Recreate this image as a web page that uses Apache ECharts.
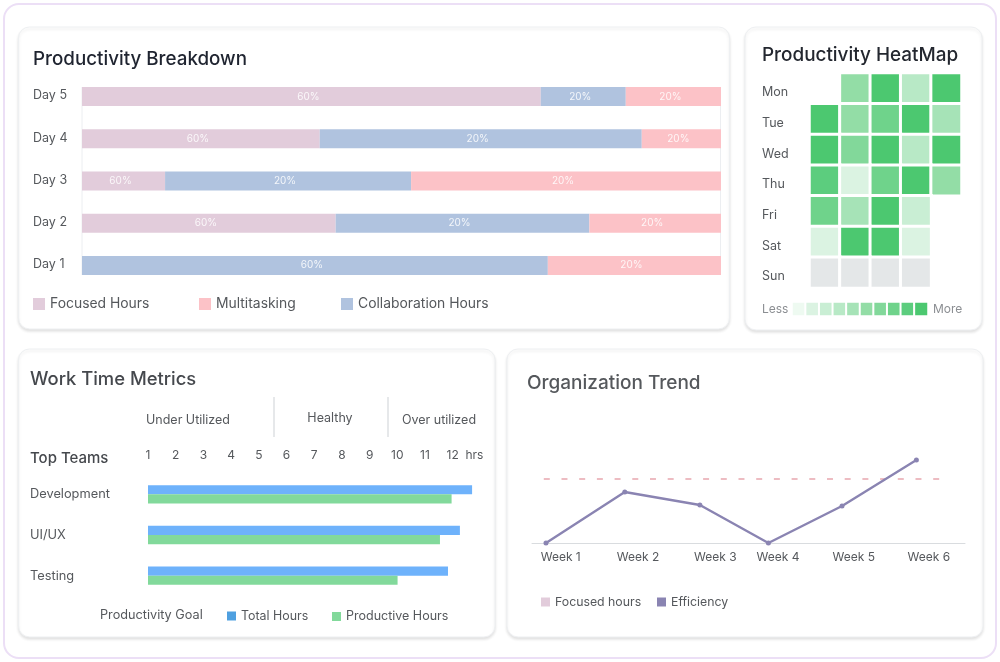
<!DOCTYPE html>
<html>
<head>
<meta charset="utf-8">
<style>
  html, body { margin: 0; padding: 0; background: #fff; }
  #main { width: 1000px; height: 662px; }
</style>
<script src="https://cdn.jsdelivr.net/npm/echarts@6/dist/echarts.min.js"></script>
</head>
<body>
<div id="main"></div>
<script>
const FONT = 'Inter, "Open Sans", sans-serif';

// Productivity Breakdown (share of the bar)
const days = ['Day 5', 'Day 4', 'Day 3', 'Day 2', 'Day 1'];
const focusedHours = [71.8, 37.2, 13, 39.7, 0];
const collaborationHours = [13.3, 50.4, 38.5, 39.7, 72.9];
const multitasking = [14.9, 12.4, 48.5, 20.6, 27.1];
const focusedLabels = ['60%', '60%', '60%', '60%', ''];
const collaborationLabels = ['20%', '20%', '20%', '20%', '60%'];
const multitaskingLabels = ['20%', '20%', '20%', '20%', '20%'];

// Productivity HeatMap (level 0-10, null = no cell)
const weekdays = ['Mon', 'Tue', 'Wed', 'Thu', 'Fri', 'Sat', 'Sun'];
const heatColumns = ['c1', 'c2', 'c3', 'c4', 'c5'];
const heatLevels = [
  [null, 6, 10, 4, 10],
  [10, 6, 8, 10, 5],
  [10, 7, 10, 4, 10],
  [9, 2, 8, 10, 6],
  [8, 5, 10, 3, null],
  [2, 10, 10, 2, null],
  [0, 0, 0, 0, null]
];
const scaleLevels = [1, 2, 3, 4, 5, 6, 7, 8, 9, 10];
const levelColors = ['#e4e7e8', '#eefaf1', '#dbf3e2', '#c9eed4', '#b8e9c6', '#a6e3b7', '#93dda6', '#82d89a', '#6fd38b', '#5ccd7e', '#4cc870'];

// Work Time Metrics
const teams = ['Development', 'UI/UX', 'Testing'];
const totalHours = [12.7, 12.26, 11.83];
const productiveHours = [11.96, 11.54, 10.01];
const hourTicks = ['1', '2', '3', '4', '5', '6', '7', '8', '9', '10', '11', '12', 'hrs'];
const zoneLabels = ['Under Utilized', 'Healthy', 'Over utilized'];

// Organization Trend
const weekLabels = ['Week 1', 'Week 2', 'Week 3', 'Week 4', 'Week 5', 'Week 6'];
const weekLabelAt = [0.2, 1.25, 2.3, 3.15, 4.18, 5.2];
const efficiencyAt = [0, 1.07, 2.09, 3.02, 4.02, 5.03];
const efficiency = [0, 51, 38, 0, 37, 83];
const goalAt = [-0.03, 5.35];
const goal = [64, 64];

function card(x, y, w, h) {
  return {
    type: 'rect',
    shape: { x: x, y: y, width: w, height: h, r: 11 },
    style: { fill: '#fff', stroke: '#eef0f2', lineWidth: 1, shadowBlur: 3, shadowOffsetY: 2, shadowColor: 'rgba(0,0,0,0.11)' }
  };
}
function vline(x, y1, y2, color, width) {
  return { type: 'line', shape: { x1: x, y1: y1, x2: x, y2: y2 }, style: { stroke: color, lineWidth: width } };
}
function text(str, x, y, size, color, align, weight) {
  return {
    type: 'text', x: x, y: y, z: 5,
    style: { text: str, fill: color, font: (weight || 400) + ' ' + size + 'px ' + FONT, textAlign: align || 'left', textVerticalAlign: 'middle' }
  };
}
function title(str, x, y, size, color) {
  return { text: str, left: x, top: y, padding: 0, textStyle: { fontFamily: FONT, fontSize: size, fontWeight: 500, color: color } };
}
function legend(name, x, y, size, color, box, textColor) {
  return {
    left: x, top: y, padding: 0, selectedMode: false, icon: 'rect',
    itemWidth: box, itemHeight: box, itemGap: 0,
    data: [{ name: name, itemStyle: { color: color } }],
    textStyle: { fontFamily: FONT, fontSize: size, color: textColor }
  };
}
function stackBar(name, values, labels, color) {
  return {
    type: 'bar', name: name, stack: 'day', xAxisIndex: 0, yAxisIndex: 0,
    data: values, barWidth: 19, itemStyle: { color: color }, silent: true,
    label: {
      show: true, position: 'inside', offset: [-3, 0], fontFamily: FONT, fontSize: 10, color: 'rgba(255,255,255,0.85)',
      formatter: function (p) { return labels[p.dataIndex]; }
    }
  };
}

const heatData = [];
heatLevels.forEach(function (row, r) {
  row.forEach(function (v, c) {
    if (v !== null) heatData.push([c, r, v]);
  });
});

const hiddenCat = function (data, idx, extra) {
  return Object.assign({ type: 'category', gridIndex: idx, data: data, show: false }, extra || {});
};
const plainAxis = { axisLine: { show: false }, axisTick: { show: false }, splitLine: { show: false } };

const option = {
  animation: false,
  backgroundColor: '#fff',
  textStyle: { fontFamily: FONT },
  title: [
    title('Productivity Breakdown', 33, 50, 18.8, '#1f2430'),
    title('Productivity HeatMap', 762, 46, 18.9, '#23272f'),
    title('Work Time Metrics', 30, 370, 18.4, '#45484d'),
    title('Organization Trend', 527, 374, 19, '#55585c')
  ],
  graphic: [
    { type: 'rect', shape: { x: 4, y: 4, width: 992, height: 654, r: 15 }, style: { fill: '#fff', stroke: '#ecdff6', lineWidth: 2 } },
    card(18.5, 27, 711, 302),
    card(745, 27, 237, 303),
    card(18.5, 349, 476.5, 288),
    card(507, 349, 476, 288),
    vline(82, 87, 275, '#eceef1', 1),
    vline(720.5, 87, 275, '#eceef1', 1),
    vline(274, 397, 437, '#e6e8ea', 2),
    vline(388, 397, 437, '#e6e8ea', 2),
    text(zoneLabels[0], 188, 420, 12.5, '#55585c', 'center'),
    text(zoneLabels[1], 330, 418, 12.5, '#55585c', 'center'),
    text(zoneLabels[2], 439, 420, 12.5, '#55585c', 'center'),
    text('Top Teams', 30, 458, 15, '#45484d', 'left', 500),
    text('Productivity Goal', 100, 615.5, 12.7, '#55585c'),
    text('Less', 762, 309, 12, '#8b8e92'),
    text('More', 933, 309, 12, '#8b8e92')
  ],
  legend: [
    legend('Focused Hours', 33, 297, 13.9, '#e2ccdb', 12, '#55585c'),
    legend('Multitasking', 199, 297, 13.9, '#fcc2c7', 12, '#55585c'),
    legend('Collaboration Hours', 341, 297, 13.9, '#b0c3df', 12, '#55585c'),
    legend('Total Hours', 227, 610, 12.4, '#4fa0e0', 9, '#55585c'),
    legend('Productive Hours', 332, 610, 12.5, '#82d99b', 9, '#55585c'),
    legend('Focused hours', 541, 596, 12.3, '#e2ccdb', 9, '#55585c'),
    legend('Efficiency', 657, 596, 12.3, '#8a84b2', 9, '#55585c')
  ],
  visualMap: {
    type: 'piecewise', show: false, seriesIndex: [3, 4], dimension: 2,
    pieces: levelColors.map(function (c, i) { return { value: i, color: c }; })
  },
  grid: [
    { left: 82, top: 75.4, width: 639, height: 211.2 },
    { left: 809.5, top: 73, width: 152, height: 215 },
    { left: 792, top: 302, width: 136, height: 14 },
    { left: 148, top: 474, width: 332.4, height: 122 },
    { left: 532, top: 443, width: 433, height: 100 }
  ],
  xAxis: [
    { type: 'value', gridIndex: 0, min: 0, max: 100, show: false },
    hiddenCat(heatColumns, 1),
    hiddenCat(scaleLevels, 2),
    Object.assign({
      type: 'value', gridIndex: 3, position: 'top', min: 1, max: 13, interval: 1,
      axisLabel: {
        margin: 13, fontFamily: FONT, fontSize: 12, color: '#55585c', showMinLabel: true, showMaxLabel: true,
        rich: { h: { fontFamily: FONT, fontSize: 12, color: '#55585c', padding: [0, 12, 0, 0] } },
        formatter: function (v) { return v === 13 ? '{h|' + hourTicks[v - 1] + '}' : hourTicks[v - 1]; }
      }
    }, plainAxis),
    {
      type: 'value', gridIndex: 4, min: -0.19, max: 5.69,
      axisLine: { show: true, onZero: false, lineStyle: { color: '#d9dcdf', width: 1 } },
      axisTick: { show: false }, splitLine: { show: false },
      axisLabel: {
        customValues: weekLabelAt, margin: 8, fontFamily: FONT, fontSize: 12, color: '#55585c',
        formatter: function (v) { return weekLabels[weekLabelAt.indexOf(v)]; }
      }
    }
  ],
  yAxis: [
    Object.assign({
      type: 'category', gridIndex: 0, data: days, inverse: true,
      axisLabel: { align: 'left', verticalAlign: 'bottom', lineHeight: 2, margin: 49, fontFamily: FONT, fontSize: 12.5, color: '#55585c' }
    }, plainAxis),
    Object.assign({
      type: 'category', gridIndex: 1, data: weekdays, inverse: true,
      axisLabel: { align: 'left', verticalAlign: 'top', lineHeight: 8, margin: 47.5, fontFamily: FONT, fontSize: 12.5, color: '#55585c' }
    }, plainAxis),
    hiddenCat(['scale'], 2),
    Object.assign({
      type: 'category', gridIndex: 3, data: teams, inverse: true,
      axisLabel: { align: 'left', margin: 118, fontFamily: FONT, fontSize: 12.8, color: '#55585c' }
    }, plainAxis),
    { type: 'value', gridIndex: 4, min: 0, max: 100, show: false }
  ],
  series: [
    stackBar('Focused Hours', focusedHours, focusedLabels, '#e2ccdb'),
    stackBar('Collaboration Hours', collaborationHours, collaborationLabels, '#b0c3df'),
    stackBar('Multitasking', multitasking, multitaskingLabels, '#fcc2c7'),
    {
      type: 'heatmap', xAxisIndex: 1, yAxisIndex: 1, data: heatData, silent: true,
      itemStyle: { borderColor: '#fff', borderWidth: 3 }
    },
    {
      type: 'heatmap', xAxisIndex: 2, yAxisIndex: 2, silent: true,
      data: scaleLevels.map(function (v, i) { return [i, 0, v]; }),
      itemStyle: { borderColor: '#fff', borderWidth: 2 }
    },
    {
      type: 'bar', name: 'Total Hours', xAxisIndex: 3, yAxisIndex: 3, data: totalHours,
      barWidth: 9.2, barGap: 0, itemStyle: { color: '#6eb2fb' }, silent: true
    },
    {
      type: 'bar', name: 'Productive Hours', xAxisIndex: 3, yAxisIndex: 3, data: productiveHours,
      barWidth: 9.2, barGap: 0, itemStyle: { color: '#82d99b' }, silent: true
    },
    {
      type: 'line', name: 'Focused hours', xAxisIndex: 4, yAxisIndex: 4, silent: true,
      data: goalAt.map(function (x, i) { return [x, goal[i]]; }),
      showSymbol: false, lineStyle: { color: '#e8a7ae', width: 1.3, type: [6, 11.7] }
    },
    {
      type: 'line', name: 'Efficiency', xAxisIndex: 4, yAxisIndex: 4, silent: true, clip: false,
      data: efficiencyAt.map(function (x, i) { return [x, efficiency[i]]; }),
      symbol: 'circle', symbolSize: 5, itemStyle: { color: '#8a84b2' },
      lineStyle: { color: '#8a84b2', width: 2.4 }
    }
  ]
};

const chart = echarts.init(document.getElementById('main'));
chart.setOption(option);
</script>
</body>
</html>
